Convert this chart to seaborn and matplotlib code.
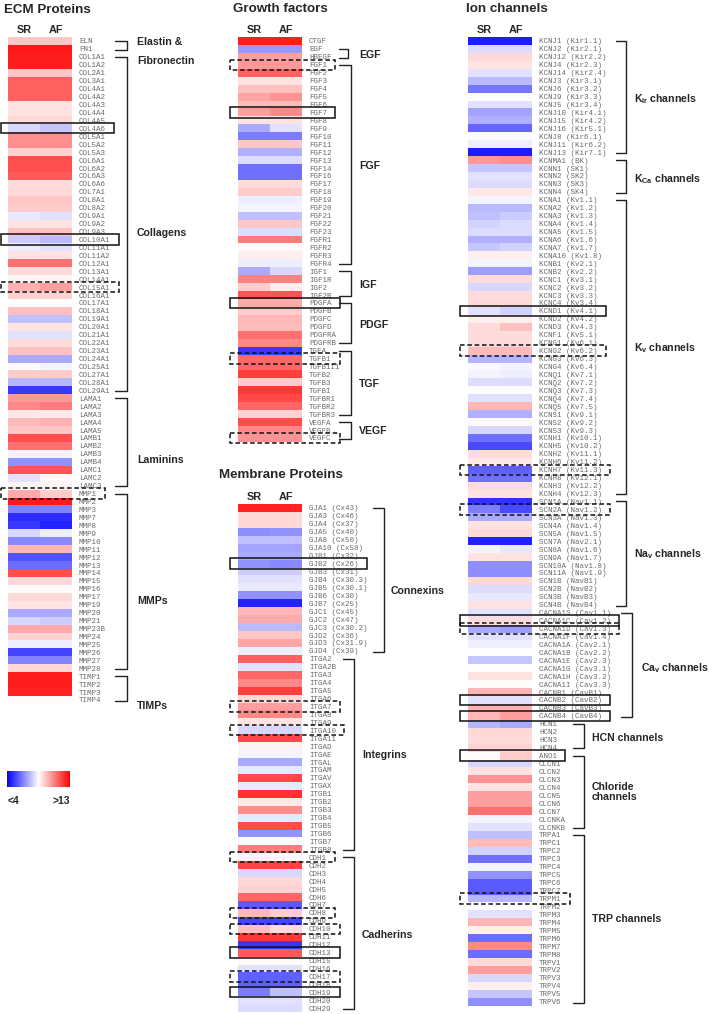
import numpy as np
import pandas as pd
import matplotlib
matplotlib.use("Agg")
import matplotlib.pyplot as plt
import seaborn as sns
from matplotlib.patches import Rectangle
from matplotlib.cm import ScalarMappable
from matplotlib.colors import Normalize

# ---------------- data (log expression, colour scale <4 .. >13) ----------------
ecm_genes = ["ELN", "FN1",
             "COL1A1", "COL1A2", "COL2A1", "COL3A1", "COL4A1", "COL4A2", "COL4A3", "COL4A4",
             "COL4A5", "COL4A6", "COL5A1", "COL5A2", "COL5A3", "COL6A1", "COL6A2", "COL6A3",
             "COL6A6", "COL7A1", "COL8A1", "COL8A2", "COL9A1", "COL9A2", "COL9A3", "COL10A1",
             "COL11A1", "COL11A2", "COL12A1", "COL13A1", "COL14A1", "COL15A1", "COL16A1",
             "COL17A1", "COL18A1", "COL19A1", "COL20A1", "COL21A1", "COL22A1", "COL23A1",
             "COL24A1", "COL25A1", "COL27A1", "COL28A1", "COL29A1",
             "LAMA1", "LAMA2", "LAMA3", "LAMA4", "LAMA5", "LAMB1", "LAMB2", "LAMB3", "LAMB4",
             "LAMC1", "LAMC2", "LAMC3",
             "MMP1", "MMP2", "MMP3", "MMP7", "MMP8", "MMP9", "MMP10", "MMP11", "MMP12", "MMP13",
             "MMP14", "MMP15", "MMP16", "MMP17", "MMP19", "MMP20", "MMP21", "MMP23B", "MMP24",
             "MMP25", "MMP26", "MMP27", "MMP28",
             "TIMP1", "TIMP2", "TIMP3", "TIMP4"]
ecm_sr = [9.5, 12.6,
          12.5, 12.5, 9.5, 11.3, 11.3, 11.3, 9.0, 9.0, 9.2, 7.8, 10.5, 10.5, 9.3, 11.6, 11.6, 11.4,
          9.1, 9.2, 9.5, 9.4, 8.1, 9.0, 9.6, 7.6, 8.2, 9.0, 11.0, 9.1, 8.7, 9.9, 9.3, 8.5, 9.6,
          7.4, 9.0, 8.0, 9.1, 9.6, 7.0, 8.6, 9.4, 7.2, 5.0,
          10.3, 10.6, 8.9, 9.7, 9.5, 11.6, 11.0, 8.3, 6.6, 11.5, 8.0, 8.7,
          10.0, 12.5, 6.3, 4.8, 5.0, 7.8, 6.4, 9.8, 5.5, 5.9, 11.6, 9.2, 8.6, 9.2, 9.0, 7.0,
          7.8, 10.0, 9.3, 8.2, 5.2, 6.3, 9.2,
          12.5, 12.5, 12.4, 8.6]
ecm_af = [9.5, 12.6,
          12.5, 12.5, 9.5, 11.3, 11.3, 11.3, 9.0, 9.0, 9.2, 7.5, 10.5, 10.5, 9.3, 11.6, 11.6, 11.4,
          9.1, 9.2, 9.5, 9.4, 8.0, 9.0, 9.6, 7.3, 8.0, 9.0, 11.0, 9.1, 8.7, 10.2, 9.3, 8.5, 9.6,
          7.4, 9.0, 8.0, 9.1, 9.6, 7.0, 8.3, 9.4, 7.2, 5.0,
          10.3, 10.8, 8.9, 9.9, 9.5, 11.6, 11.0, 8.3, 6.6, 11.5, 8.6, 8.7,
          9.4, 12.5, 6.3, 4.8, 4.6, 8.2, 6.4, 9.8, 5.5, 5.9, 11.6, 9.2, 8.6, 9.2, 9.0, 7.0,
          7.6, 10.0, 9.3, 8.2, 5.2, 6.3, 9.2,
          12.5, 12.5, 12.4, 8.6]

gf_genes = ["CTGF", "EGF", "HBEGF",
            "FGF1", "FGF2", "FGF3", "FGF4", "FGF5", "FGF6", "FGF7", "FGF8", "FGF9", "FGF10",
            "FGF11", "FGF12", "FGF13", "FGF14", "FGF16", "FGF17", "FGF18", "FGF19", "FGF20",
            "FGF21", "FGF22", "FGF23", "FGFR1", "FGFR2", "FGFR3", "FGFR4",
            "IGF1", "IGF1R", "IGF2", "IGF2R",
            "PDGFA", "PDGFB", "PDGFC", "PDGFD", "PDGFRA", "PDGFRB",
            "TGFA", "TGFB1", "TGFB1I1", "TGFB2", "TGFB3", "TGFBI", "TGFBR1", "TGFBR2", "TGFBR3",
            "VEGFA", "VEGFB", "VEGFC"]
gf_sr = [12.5, 6.7, 10.2,
         10.3, 11.3, 9.0, 9.6, 10.1, 9.7, 10.2, 9.0, 7.0, 6.2, 9.5, 7.1, 7.9, 6.0, 6.0, 9.1, 9.4,
         8.2, 8.3, 7.4, 9.5, 7.9, 10.8, 8.6, 8.8, 8.2,
         7.0, 10.7, 9.4, 11.5,
         10.0, 9.4, 9.8, 9.7, 11.0, 10.6,
         5.0, 11.2, 11.2, 11.9, 9.4, 12.0, 11.7, 11.2, 9.3,
         11.6, 10.6, 10.4]
gf_af = [12.5, 6.7, 10.2,
         10.3, 11.3, 9.0, 9.6, 10.4, 9.7, 10.6, 9.0, 8.0, 6.2, 9.5, 7.1, 7.9, 6.0, 6.0, 9.1, 9.4,
         8.2, 8.3, 7.4, 9.5, 7.9, 10.8, 8.6, 8.8, 8.2,
         7.8, 10.7, 8.8, 11.5,
         10.0, 9.4, 9.8, 9.7, 11.0, 10.6,
         5.0, 11.2, 11.2, 11.9, 9.4, 12.0, 11.7, 11.2, 9.3,
         11.6, 10.6, 10.4]

mem_genes = ["GJA1 (Cx43)", "GJA3 (Cx46)", "GJA4 (Cx37)", "GJA5 (Cx40)", "GJA8 (Cx50)",
             "GJA10 (Cx58)", "GJB1 (Cx32)", "GJB2 (Cx26)", "GJB3 (Cx31)", "GJB4 (Cx30.3)",
             "GJB5 (Cx30.1)", "GJB6 (Cx30)", "GJB7 (Cx25)", "GJC1 (Cx45)", "GJC2 (Cx47)",
             "GJC3 (Cx30.2)", "GJD2 (Cx36)", "GJD3 (Cx31.9)", "GJD4 (Cx39)",
             "ITGA2", "ITGA2B", "ITGA3", "ITGA4", "ITGA5", "ITGA6", "ITGA7", "ITGA8", "ITGA9",
             "ITGA10", "ITGA11", "ITGAD", "ITGAE", "ITGAL", "ITGAM", "ITGAV", "ITGAX", "ITGB1",
             "ITGB2", "ITGB3", "ITGB4", "ITGB5", "ITGB6", "ITGB7", "ITGB8",
             "CDH1", "CDH2", "CDH3", "CDH4", "CDH5", "CDH6", "CDH7", "CDH8", "CDH9", "CDH10",
             "CDH11", "CDH12", "CDH13", "CDH15", "CDH16", "CDH17", "CDH18", "CDH19", "CDH20",
             "CDH29"]
mem_sr = [12.4, 9.2, 9.2, 6.5, 7.4, 6.9, 7.0, 6.6, 7.6, 8.0, 8.1, 6.6, 4.6, 9.8, 10.0, 7.3,
          9.5, 10.1, 8.2,
          11.3, 8.0, 11.2, 10.6, 11.9, 9.2, 10.2, 10.6, 9.0, 7.8, 11.7, 8.7, 8.3, 7.0, 8.1,
          11.7, 8.1, 12.1, 8.9, 10.5, 8.1, 11.6, 6.6, 8.4, 10.8,
          8.3, 11.8, 7.8, 9.2, 9.3, 11.2, 5.6, 9.8, 5.2, 9.6, 12.0, 5.0, 11.4, 8.6, 8.0, 5.7,
          5.7, 6.2, 8.0, 7.9]
mem_af = [12.4, 9.2, 9.2, 6.6, 7.4, 6.9, 7.0, 6.4, 7.6, 8.0, 8.1, 6.6, 4.6, 9.8, 10.0, 7.3,
          9.5, 10.1, 8.2,
          11.3, 8.0, 11.2, 10.6, 11.9, 9.2, 10.2, 10.6, 9.0, 7.8, 11.7, 8.7, 8.3, 7.0, 8.1,
          11.7, 8.1, 12.1, 8.9, 10.5, 8.1, 11.6, 6.6, 8.4, 10.8,
          8.6, 11.8, 7.8, 9.2, 9.3, 11.2, 5.6, 9.4, 5.2, 9.1, 12.0, 5.0, 11.4, 8.6, 8.0, 5.7,
          5.7, 7.4, 8.0, 7.9]

ion_genes = ["KCNJ1 (Kir1.1)", "KCNJ2 (Kir2.1)", "KCNJ12 (Kir2.2)", "KCNJ4 (Kir2.3)",
             "KCNJ14 (Kir2.4)", "KCNJ3 (Kir3.1)", "KCNJ6 (Kir3.2)", "KCNJ9 (Kir3.3)",
             "KCNJ5 (Kir3.4)", "KCNJ10 (Kir4.1)", "KCNJ15 (Kir4.2)", "KCNJ16 (Kir5.1)",
             "KCNJ8 (Kir6.1)", "KCNJ11 (Kir6.2)", "KCNJ13 (Kir7.1)",
             "KCNMA1 (BK)", "KCNN1 (SK1)", "KCNN2 (SK2)", "KCNN3 (SK3)", "KCNN4 (SK4)",
             "KCNA1 (Kv1.1)", "KCNA2 (Kv1.2)", "KCNA3 (Kv1.3)", "KCNA4 (Kv1.4)", "KCNA5 (Kv1.5)",
             "KCNA6 (Kv1.6)", "KCNA7 (Kv1.7)", "KCNA10 (Kv1.8)", "KCNB1 (Kv2.1)", "KCNB2 (Kv2.2)",
             "KCNC1 (Kv3.1)", "KCNC2 (Kv3.2)", "KCNC3 (Kv3.3)", "KCNC4 (Kv3.4)", "KCND1 (Kv4.1)",
             "KCND2 (Kv4.2)", "KCND3 (Kv4.3)", "KCNF1 (Kv5.1)", "KCNG1 (Kv6.1)", "KCNG2 (Kv6.2)",
             "KCNG3 (Kv6.3)", "KCNG4 (Kv6.4)", "KCNQ1 (Kv7.1)", "KCNQ2 (Kv7.2)", "KCNQ3 (Kv7.3)",
             "KCNQ4 (Kv7.4)", "KCNQ5 (Kv7.5)", "KCNS1 (Kv9.1)", "KCNS2 (Kv9.2)", "KCNS3 (Kv9.3)",
             "KCNH1 (Kv10.1)", "KCNH5 (Kv10.2)", "KCNH2 (Kv11.1)", "KCNH6 (Kv11.2)",
             "KCNH7 (Kv11.3)", "KCNH8 (Kv12.1)", "KCNH3 (Kv12.2)", "KCNH4 (Kv12.3)",
             "SCN1A (Nav1.1)", "SCN2A (Nav1.2)", "SCN3A (Nav1.3)", "SCN4A (Nav1.4)",
             "SCN5A (Nav1.5)", "SCN7A (Nav2.1)", "SCN8A (Nav1.6)", "SCN9A (Nav1.7)",
             "SCN10A (Nav1.8)", "SCN11A (Nav1.9)", "SCN1B (NavB1)", "SCN2B (NavB2)",
             "SCN3B (NavB3)", "SCN4B (NavB4)",
             "CACNA1S (Cav1.1)", "CACNA1C (Cav1.2)", "CACNA1D (Cav1.3)", "CACNA1F (Cav1.4)",
             "CACNA1A (Cav2.1)", "CACNA1B (Cav2.2)", "CACNA1E (Cav2.3)", "CACNA1G (Cav3.1)",
             "CACNA1H (Cav3.2)", "CACNA1I (Cav3.3)", "CACNB1 (CavB1)", "CACNB2 (CavB2)",
             "CACNB3 (CavB3)", "CACNB4 (CavB4)",
             "HCN1", "HCN2", "HCN3", "HCN4",
             "ANO1", "CLCN1", "CLCN2", "CLCN3", "CLCN4", "CLCN5", "CLCN6", "CLCN7", "CLCNKA",
             "CLCNKB",
             "TRPA1", "TRPC1", "TRPC2", "TRPC3", "TRPC4", "TRPC5", "TRPC6", "TRPC7", "TRPM1",
             "TRPM2", "TRPM3", "TRPM4", "TRPM5", "TRPM6", "TRPM7", "TRPM8", "TRPV1", "TRPV2",
             "TRPV3", "TRPV4", "TRPV5", "TRPV6"]
ion_sr = [4.5, 7.9, 9.2, 9.0, 8.0, 7.3, 6.1, 8.5, 8.0, 6.9, 7.1, 5.8, 8.6, 8.2, 4.5,
          10.3, 7.5, 8.0, 7.9, 8.9,
          8.3, 7.3, 7.4, 7.7, 7.9, 7.1, 7.5, 8.8, 8.3, 6.8, 9.1, 7.8, 9.1, 9.2, 8.0, 8.8, 9.1,
          9.1, 9.1, 9.7, 7.2, 8.4, 8.3, 7.9, 8.5, 8.0, 9.8, 7.1, 8.6, 7.8, 6.0, 5.3, 9.1, 8.9,
          5.7, 6.0, 9.1, 9.0,
          4.9, 6.2, 7.0, 9.0, 9.2, 4.6, 8.3, 9.0, 6.5, 6.5, 9.2, 7.9, 8.1, 9.0,
          8.0, 9.1, 7.0, 8.0, 8.2, 8.5, 7.5, 8.5, 9.0, 8.6, 9.8, 8.0, 9.9, 9.8,
          7.2, 9.2, 9.1, 9.3,
          8.6, 7.8, 9.0, 10.4, 9.0, 10.2, 10.2, 11.0, 8.3, 8.0,
          7.4, 9.7, 7.7, 6.0, 8.3, 6.6, 5.6, 5.6, 7.2, 8.5, 8.0, 9.8, 8.8, 5.9, 10.6, 5.9,
          9.2, 10.2, 7.8, 8.8, 7.5, 6.5]
ion_af = [4.5, 7.9, 9.2, 9.0, 8.0, 7.3, 6.1, 8.5, 8.0, 6.9, 7.1, 5.8, 8.4, 8.2, 4.5,
          10.5, 7.5, 8.0, 7.9, 8.9,
          8.3, 7.3, 7.6, 7.9, 7.9, 7.1, 7.7, 8.8, 8.3, 6.8, 9.1, 7.8, 9.1, 9.2, 7.7, 8.8, 9.6,
          9.1, 9.1, 9.7, 7.2, 8.3, 8.2, 7.9, 8.5, 8.0, 9.8, 7.1, 8.6, 7.8, 6.0, 5.3, 9.1, 8.9,
          5.7, 6.0, 9.1, 9.0,
          4.9, 5.3, 7.0, 9.0, 9.2, 4.6, 8.1, 9.0, 6.5, 6.5, 9.2, 7.9, 8.1, 9.0,
          8.0, 9.1, 6.8, 8.0, 8.2, 8.5, 7.5, 8.5, 9.0, 8.6, 9.8, 8.0, 9.9, 10.2,
          7.0, 9.2, 9.1, 9.3,
          9.4, 7.8, 9.0, 10.4, 9.0, 10.2, 10.2, 11.0, 8.3, 8.0,
          7.4, 9.7, 7.7, 6.0, 8.3, 6.6, 5.6, 5.6, 7.2, 8.5, 8.0, 9.8, 8.8, 5.9, 10.6, 5.9,
          9.2, 10.2, 7.8, 8.8, 7.5, 6.5]

# groups: label, first gene, last gene
ecm_groups = [("Elastin &\nFibronectin", "ELN", "FN1"), ("Collagens", "COL1A1", "COL29A1"),
              ("Laminins", "LAMA1", "LAMC3"), ("MMPs", "MMP1", "MMP28"), ("TIMPs", "TIMP1", "TIMP4")]
gf_groups = [("EGF", "EGF", "HBEGF"), ("FGF", "FGF1", "FGFR4"), ("IGF", "IGF1", "IGF2R"),
             ("PDGF", "PDGFA", "PDGFRB"), ("TGF", "TGFA", "TGFBR3"), ("VEGF", "VEGFA", "VEGFC")]
mem_groups = [("Connexins", "GJA1 (Cx43)", "GJD4 (Cx39)"), ("Integrins", "ITGA2", "ITGB8"),
              ("Cadherins", "CDH1", "CDH29")]
ion_groups = [("$K_{ir}$ channels", "KCNJ1 (Kir1.1)", "KCNJ13 (Kir7.1)"),
              ("$K_{Ca}$ channels", "KCNMA1 (BK)", "KCNN4 (SK4)"),
              ("$K_{v}$ channels", "KCNA1 (Kv1.1)", "KCNH4 (Kv12.3)"),
              ("$Na_{v}$ channels", "SCN1A (Nav1.1)", "SCN4B (NavB4)"),
              ("$Ca_{v}$ channels", "CACNA1S (Cav1.1)", "CACNB4 (CavB4)"),
              ("HCN channels", "HCN1", "HCN4"),
              ("Chloride\nchannels", "ANO1", "CLCNKB"),
              ("TRP channels", "TRPA1", "TRPV6")]

# highlighted genes: solid or dashed frame
ecm_boxes = [("COL4A6", "-"), ("COL10A1", "-"), ("COL15A1", "--"), ("MMP1", "--")]
gf_boxes = [("FGF1", "--"), ("FGF7", "-"), ("PDGFA", "-"), ("TGFB1", "--"), ("VEGFC", "--")]
mem_boxes = [("GJB2 (Cx26)", "-"), ("ITGA7", "--"), ("ITGA10", "--"), ("CDH1", "--"),
             ("CDH8", "--"), ("CDH10", "--"), ("CDH13", "-"), ("CDH17", "--"), ("CDH19", "-")]
ion_boxes = [("KCND1 (Kv4.1)", "-"), ("KCNG2 (Kv6.2)", "--"), ("KCNH7 (Kv11.3)", "--"),
             ("SCN2A (Nav1.2)", "--"), ("CACNA1C (Cav1.2)", "-"), ("CACNA1D (Cav1.3)", "--"),
             ("CACNB2 (CavB2)", "-"), ("CACNB4 (CavB4)", "-"), ("ANO1", "-"), ("TRPM1", "--")]

# ---------------- layout (pixels) ----------------
W, H = 709, 1014
ROW = 7.94
HM_W = 64

sns.set_theme(style="white")
plt.rcParams['font.family'] = ['Liberation Sans', 'DejaVu Sans']
plt.rcParams['mathtext.fontset'] = 'custom'
plt.rcParams['mathtext.rm'] = 'Liberation Sans:bold'
plt.rcParams['mathtext.it'] = 'Liberation Sans:bold'
plt.rcParams['mathtext.bf'] = 'Liberation Sans:bold'

fig = plt.figure(figsize=(W / 100, H / 100), dpi=100)
fig.patch.set_facecolor('white')


def px_axes(x, y, w, h):
    return fig.add_axes([x / W, 1 - (y + h) / H, w / W, h / H])


def heat_panel(genes, sr, af, left, top):
    df = pd.DataFrame({"SR": sr, "AF": af}, index=genes)
    ax = px_axes(left, top, HM_W, len(genes) * ROW)
    sns.heatmap(df, ax=ax, cmap="bwr", vmin=4, vmax=13, cbar=False,
                xticklabels=True, yticklabels=True)
    ax.xaxis.tick_top()
    ax.yaxis.tick_right()
    ax.tick_params(axis="x", length=0, pad=1.5, labelsize=7.8)
    ax.tick_params(axis="y", length=0, pad=5, labelsize=5.4, labelcolor="#6a6a6a")
    for t in ax.get_xticklabels():
        t.set_fontweight("bold")
        t.set_rotation(0)
    for t in ax.get_yticklabels():
        t.set_fontfamily("Liberation Mono")
        t.set_rotation(0)
    ax.set_xlabel("")
    ax.set_ylabel("")


panels = [
    # genes, sr, af, left, top, groups, (arm x, vertical x, label x) per group, label rows, boxes
    (ecm_genes, ecm_sr, ecm_af, 8, 37, ecm_groups,
     [(115, 127, 137)] * 5, [1.8, 24.7, 53.3, 71.0, 84.3], ecm_boxes),
    (gf_genes, gf_sr, gf_af, 238, 37, gf_groups,
     [(339, 348, 359)] + [(339, 351, 359)] * 5, [2.3, 16.2, 31.2, 36.3, 43.7, 49.6], gf_boxes),
    (mem_genes, mem_sr, mem_af, 238, 504, mem_groups,
     [(373, 384, 391), (343, 354, 362), (343, 354, 362)], [11.0, 31.6, 54.3], mem_boxes),
    (ion_genes, ion_sr, ion_af, 468, 37, ion_groups,
     [(616, 626, 634)] * 4 + [(621, 632, 641)] + [(573, 584, 592)] * 3,
     [7.8, 17.9, 39.2, 65.1, 79.5, 88.3, 95.1, 111.1], ion_boxes),
]

for genes, sr, af, left, top, *_ in panels:
    heat_panel(genes, sr, af, left, top)

# colour key
cax = px_axes(7, 771, 63, 16)
cb = fig.colorbar(ScalarMappable(Normalize(4, 13), "bwr"), cax=cax, orientation="horizontal")
cb.set_ticks([])
cb.outline.set_visible(False)

# overlay for titles, brackets and frames
ov = fig.add_axes([0, 0, 1, 1])
ov.set_xlim(0, W)
ov.set_ylim(H, 0)
ov.axis("off")

for txt, x, y in [("ECM Proteins", 4, 10), ("Growth factors", 233, 9),
                  ("Membrane Proteins", 219, 475), ("Ion channels", 466, 9)]:
    ov.text(x, y, txt, fontsize=9.6, fontweight="bold", va="center", ha="left")

ov.text(8, 801, "<4", fontsize=7.5, fontweight="bold", va="center")
ov.text(53, 801, ">13", fontsize=7.5, fontweight="bold", va="center")

for genes, sr, af, left, top, groups, xs, lrows, boxes in panels:
    for (name, g0, g1), (xa, xv, xl), lr in zip(groups, xs, lrows):
        y0 = top + (genes.index(g0) + 0.5) * ROW
        y1 = top + (genes.index(g1) + 0.6) * ROW
        ov.plot([xa, xv, xv, xa], [y0, y0, y1, y1], color="#222222", lw=1.0,
                solid_joinstyle="round")
        ls = 2.1 if name.startswith("Elastin") else 1.1
        ov.text(xl, top + lr * ROW, name, fontsize=7.6, fontweight="bold",
                va="center", ha="left", linespacing=ls)
    for g, style in boxes:
        i = genes.index(g)
        x0 = max(left - 8, 0.8)
        x1 = left + HM_W + 7 + 4.5 * len(g) + 8
        ov.add_patch(Rectangle((x0, top + (i - 0.15) * ROW), x1 - x0, 1.3 * ROW, fill=False,
                               ec="#111111", lw=1.1,
                               ls="-" if style == "-" else (0, (3, 1.8))))

fig.savefig("out.png", dpi=100, facecolor="white")
